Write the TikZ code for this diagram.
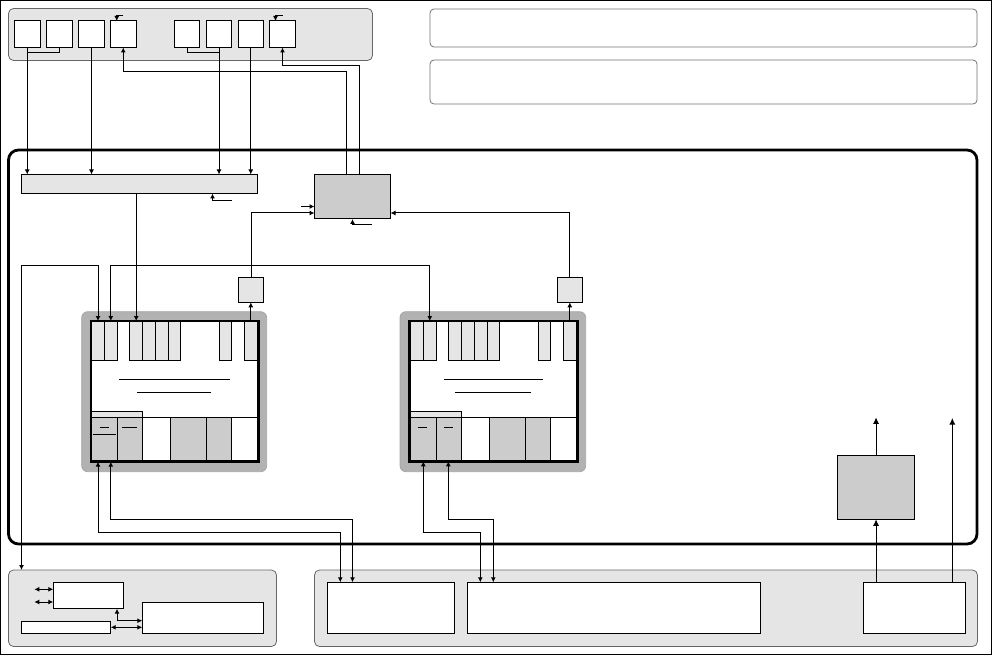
\documentclass[tikz,border=0pt]{standalone}
\usepackage{xcolor}
\usetikzlibrary{arrows.meta,calc,positioning}
\definecolor{lightfill}{HTML}{E5E5E5}
\definecolor{midfill}{HTML}{CCCCCC}
\definecolor{darkfill}{HTML}{B2B2B2}
\tikzset{
  block/.style={draw,line width=1pt,inner sep=0,outer sep=0,anchor=north west},
  whitebox/.style={block,fill=white},
  lightbox/.style={block,fill=lightfill},
  midbox/.style={block,fill=midfill},
  panel/.style={block,draw=black!60,line width=0.8pt,fill=lightfill,rounded corners=5pt},
  note/.style={block,draw=black!55,line width=0.8pt,fill=white,rounded corners=4pt},
  arr/.style={line width=1pt,-{Latex[length=5pt,width=5pt]}},
  darr/.style={line width=1pt,{Latex[length=5pt,width=5pt]}-{Latex[length=5pt,width=5pt]}},
  bigarr/.style={line width=1pt,-{Latex[length=6.5pt,width=6pt]}},
  wire/.style={line width=1pt}
}
\begin{document}
\begin{tikzpicture}[x=1pt,y=-1pt]
\useasboundingbox (0,0) rectangle (993,655);
\draw[line width=1pt] (0.5,0.5) rectangle (991.5,654);
% panels
\node[panel,minimum width=364pt,minimum height=52pt] (toppanel) at (8.5,8.5) {};
\node[note,minimum width=547pt,minimum height=38pt] (notea) at (430,9) {};
\node[note,minimum width=547pt,minimum height=44pt] (noteb) at (430,60) {};
\node[panel,minimum width=268pt,minimum height=76.5pt] (leftpanel) at (8.5,570) {};
\node[panel,minimum width=663pt,minimum height=76.5pt] (rightpanel) at (314.5,570) {};
\node[block,line width=2.8pt,rounded corners=10pt,minimum width=968.5pt,minimum height=394pt] (chip) at (8.5,150) {};
% key row
\foreach \n/\x/\w in {keya/14/26.5,keyb/46/26.5,keyc/78.5/26,keyd/110.5/25.5,keye/174.5/25,keyf/206.5/25,keyg/238/25.5,keyh/269.5/26}{
  \node[whitebox,minimum width=\w pt,minimum height=26.5pt] (\n) at (\x,21) {};}
% bus, controller, latches
\node[lightbox,minimum width=236pt,minimum height=19pt] (bus) at (21.5,174.5) {};
\node[midbox,minimum width=76pt,minimum height=44.5pt] (ctrl) at (314.5,174.5) {};
\node[lightbox,minimum width=25pt,minimum height=25pt] (lata) at (238.5,277.3) {};
\node[lightbox,minimum width=25pt,minimum height=25pt] (latb) at (557.3,277.3) {};
\node[midbox,minimum width=77.5pt,minimum height=64pt] (drv) at (837.3,455.3) {};
% cores
\node[block,draw=black!35,line width=0.8pt,fill=darkfill,rounded corners=6pt,minimum width=185pt,minimum height=160pt] (shella) at (81.7,311.7) {};
\node[block,draw=black!35,line width=0.8pt,fill=darkfill,rounded corners=6pt,minimum width=185.7pt,minimum height=160pt] (shellb) at (400,311.7) {};
\node[whitebox,minimum width=167.3pt,minimum height=140.7pt] (corea) at (91,321) {};
\node[whitebox,minimum width=168pt,minimum height=140.7pt] (coreb) at (409.3,321) {};
\foreach \n/\x/\w in {ta/91.7/12.6,tb/104.3/13,tc/129.7/13,td/142.7/13,te/155.7/12.6,tf/168.3/12,tg/219.3/12.4,th/244.3/13,
  ua/410.7/12.6,ub/423.3/13,uc/448.3/13,ud/461.3/13,ue/474.3/13,uf/487.3/12,ug/538.3/12,uh/563.3/13}{
  \node[lightbox,minimum width=\w pt,minimum height=39pt] (\n) at (\x,321) {};}
\node[lightbox,minimum width=51pt,minimum height=6pt] (stripa) at (91.7,411.3) {};
\node[lightbox,minimum width=50.6pt,minimum height=6pt] (stripb) at (410.7,411.3) {};
\draw[wire] (91,417.3) -- (258.3,417.3);
\draw[wire] (409.3,417.3) -- (577.3,417.3);
\foreach \n/\x/\w in {ba/91.7/25.6,bb/117.3/25.2,bc/170.5/35.8,bd/206.3/25.4,
  va/410.7/25.6,vb/436.3/25,vc/489.3/36,vd/525.3/25}{
  \node[midbox,minimum width=\w pt,minimum height=44pt] (\n) at (\x,417.3) {};}
\foreach \xa/\xb/\y in {119/230/379.3,137/211/392.3,100/109/427.3,93/116/434.3,122/137/427.3,
  444/543/379.3,455/531/392.3,418/427/427.3,444/453/427.3}{
  \draw[wire] (\xa,\y) -- (\xb,\y);}
\draw[line width=2.8pt] (corea.north west) rectangle (corea.south east);
\draw[line width=2.8pt] (coreb.north west) rectangle (coreb.south east);
% lower boxes
\node[whitebox,minimum width=70.4pt,minimum height=26.4pt] (ports) at (53.3,582.3) {};
\node[whitebox,minimum width=89.4pt,minimum height=12.4pt] (flash) at (21.3,621.3) {};
\node[whitebox,minimum width=121.4pt,minimum height=31.4pt] (sram) at (142.3,602.3) {};
\node[whitebox,minimum width=127.4pt,minimum height=51pt] (mema) at (327.3,582.3) {};
\node[whitebox,minimum width=292.7pt,minimum height=51pt] (memb) at (467.3,582.3) {};
\node[whitebox,minimum width=102.4pt,minimum height=51pt] (memc) at (863.3,582.3) {};
% free ends
\coordinate (upa) at (0,72);
\coordinate (upb) at (0,66);
\coordinate (ctlin) at (0,213);
\coordinate (rail) at (21.5,265);
\coordinate (lowa) at (0,532.3);
\coordinate (lowb) at (0,519.3);
\coordinate (ctrla) at (346.5,174.5);
\coordinate (ctrlb) at (359.5,174.5);
\coordinate (pina) at (340.3,582.3);
\coordinate (pinb) at (352.5,582.3);
\coordinate (pinc) at (480.3,582.3);
\coordinate (pind) at (493.3,582.3);
\coordinate (outa) at (423.3,461.3);
\coordinate (outb) at (448.3,461.3);
\coordinate (drvup) at (0,417.3);
\coordinate (sideup) at (952.3,418);
\coordinate (sidedn) at (952.3,582.3);
% key wires
\draw[wire] (keyb.south) -- ($(keyb.south)+(0,5.5)$) -| (keya.south);
\draw[wire] (keye.south) -- ($(keye.south)+(0,5.5)$) -| (keyf.south);
\draw[arr] (keya.south) -- (keya.south |- bus.north);
\draw[arr] (keyc.south) -- (keyc.south |- bus.north);
\draw[arr] (keyf.south) -- (keyf.south |- bus.north);
\draw[arr] (keyg.south) -- (keyg.south |- bus.north);
\draw[arr] (ctrla) -- (ctrla |- upa) -| (keyd.south);
\draw[arr] (ctrlb) -- (ctrlb |- upb) -| (keyh.south);
\draw[arr] ($(keyd.north)+(0,-5.5)$) -| ($(keyd.north)+(-6.5,0)$);
\draw[arr] ($(keyh.north)+(0,-5.5)$) -| ($(keyh.north)+(-7,0)$);
\draw[arr] (232,200.5) -| (212.5,193.5);
% controller
\draw[arr] (301,206.5) -- (ctrl.west |- 301,206.5);
\draw[arr] (372,225) -| (352.5,219);
\draw[arr] (lata.north) -- (lata.north |- ctlin) -- (ctrl.west |- ctlin);
\draw[arr] (latb.north) -- (latb.north |- ctlin) -- (ctrl.east |- ctlin);
\draw[arr] (th.north) -- (lata.south -| th.north);
\draw[arr] (uh.north) -- (latb.south -| uh.north);
% core inputs
\draw[arr] (bus.south -| tc.north) -- (tc.north);
\draw[darr] (leftpanel.north -| rail) -- (rail) -| (ta.north);
\draw[darr] (tb.north) -- (tb.north |- rail) -| (ub.north);
% core outputs
\draw[darr] (ta.north |- corea.south) -- (ta.north |- lowa) -| (pina);
\draw[darr] (tb.north |- corea.south) -- (tb.north |- lowb) -| (pinb);
\draw[darr] (outa) -- (outa |- lowa) -| (pinc);
\draw[darr] (outb) -- (outb |- lowb) -| (pind);
% right side
\draw[bigarr] (memc.north -| drv.south) -- (drv.south);
\draw[bigarr] (drv.north) -- (drv.north |- drvup);
\draw[bigarr] (sidedn) -- (sideup);
% lower left
\draw[darr] (34.3,589.3) -- (ports.west |- 34.3,589.3);
\draw[darr] (34.3,602) -- (ports.west |- 34.3,602);
\draw[darr] (117,608.7) |- (sram.west |- 117,620.7);
\draw[darr] (flash.east |- 0,627.3) -- (sram.west |- 0,627.3);
\end{tikzpicture}
\end{document}
